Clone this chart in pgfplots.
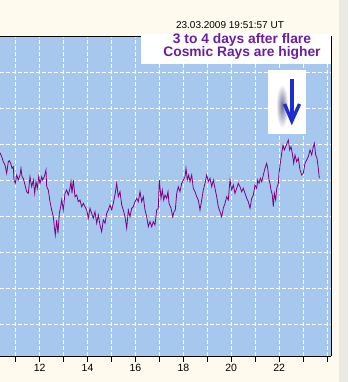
\documentclass[border=0pt]{standalone}
\usepackage{pgfplots}
\pgfplotsset{compat=1.18}
\usepackage{fontspec}
\setmainfont{Liberation Sans}
\definecolor{pagebg}{RGB}{255,250,238}
\definecolor{stripbg}{RGB}{236,232,226}
\definecolor{plotbg}{RGB}{166,200,238}
\definecolor{curve}{RGB}{128,0,128}
\definecolor{notecol}{RGB}{108,30,160}
\definecolor{arrowblue}{RGB}{30,45,210}
\definecolor{shadowcol}{RGB}{110,110,150}
\begin{document}
\begin{tikzpicture}[x=1pt,y=1pt]
\fill[pagebg] (0,0) rectangle (348,382);
\fill[stripbg] (339,0) rectangle (348,382);
\useasboundingbox (0,0) rectangle (348,382);
\begin{axis}[
  at={(0,26)}, anchor=south west,
  width=331pt, height=320pt, scale only axis,
  xmin=10.3445, xmax=24.165, ymin=0, ymax=320,
  axis background/.style={fill=plotbg},
  axis x line*=bottom, axis y line*=right,
  axis line style={black, line width=0.8pt},
  xtick={11,...,24},
  xticklabels={,12,,14,,16,,18,,20,,22,,},
  ytick={32,68,104,140,176,212,248,284},
  yticklabels={},
  y tick style={draw=none},
  x tick style={black, line width=0.8pt},
  tick align=outside, major tick length=6pt,
  xticklabel style={font=\fontsize{10.5}{11}\selectfont, yshift=1pt},
  /pgf/number format/assume math mode=true,
  grid=major,
  major grid style={white, dash pattern=on 4pt off 2pt, line width=0.6pt},
  clip=false,
]
\addplot[curve, line width=0.8pt] coordinates {
(10.345,203.3)(10.415,199.3)(10.482,194.3)(10.553,191)(10.624,182.7)(10.691,194.3)(10.733,195.3)(10.791,192.7)(10.846,187.7)(10.900,189.3)
(10.929,176)(10.983,172.7)(11.042,181)(11.109,176)(11.180,181)(11.221,187.7)(11.263,179.3)(11.317,177.7)(11.388,171)(11.459,164.3)
(11.526,162.7)(11.597,179.3)(11.668,169.3)(11.735,176)(11.793,162.7)(11.848,174.3)(11.902,167.7)(11.960,179.3)(12.015,172.7)(12.086,179.3)
(12.127,176)(12.194,179.3)(12.265,186)(12.294,169.3)(12.361,166)(12.432,154.3)(12.503,146)(12.570,139.3)(12.612,129.3)(12.653,121)
(12.712,136)(12.766,122.7)(12.821,142.7)(12.879,149.3)(12.921,156)(12.988,146)(13.059,162.7)(13.129,166)(13.196,161)(13.267,167.7)
(13.309,174.3)(13.351,162.7)(13.405,176)(13.476,159.3)(13.547,161)(13.614,154.3)(13.685,156)(13.756,149.3)(13.823,152.7)(13.894,149.3)
(13.965,146)(14.031,137.7)(14.102,147.7)(14.173,142.7)(14.240,137.7)(14.311,144.3)(14.382,132.7)(14.449,141)(14.520,131)(14.591,124.3)
(14.658,136)(14.729,132.7)(14.800,142.7)(14.866,146)(14.937,151)(15.008,146)(15.075,152.7)(15.146,161)(15.217,172.7)(15.284,159.3)
(15.355,164.3)(15.426,151)(15.493,146)(15.564,139.3)(15.635,127.7)(15.702,146)(15.772,139.3)(15.843,147.7)(15.910,149.3)(15.981,154.3)
(16.052,157.7)(16.119,154.3)(16.190,164.3)(16.261,154.3)(16.328,159.3)(16.399,146)(16.470,139.3)(16.537,129.3)(16.608,134.3)(16.679,129.3)
(16.745,134.3)(16.816,131)(16.887,146)(16.954,147.7)(16.996,176)(17.067,157.7)(17.121,166)(17.180,156)(17.234,161)(17.305,157.7)
(17.359,164.3)(17.401,152.7)(17.484,148)(17.555,139.3)(17.610,144.3)(17.664,146)(17.723,162.7)(17.789,169.3)(17.860,164.3)(17.931,172.7)
(17.998,176)(18.069,179.3)(18.111,187.7)(18.165,176)(18.223,181)(18.278,174.3)(18.349,181)(18.415,167.7)(18.486,164.3)(18.557,159.3)
(18.624,156)(18.695,146)(18.766,156)(18.833,166)(18.904,172.7)(18.975,181)(19.042,174.3)(19.113,177.7)(19.184,169.3)(19.250,176)
(19.321,167.7)(19.392,159.3)(19.459,149.3)(19.530,144.3)(19.601,139.3)(19.668,147.7)(19.739,152.7)(19.810,159.3)(19.877,156)(19.948,176)
(20.019,166)(20.086,171)(20.157,162.7)(20.228,167.7)(20.294,172.7)(20.366,169.3)(20.436,164.3)(20.503,167.7)(20.574,162.7)(20.645,157.7)
(20.712,154.3)(20.783,147.7)(20.854,157.7)(20.921,161)(20.992,171)(21.063,167.7)(21.105,176)(21.159,172.7)(21.213,177.7)(21.272,174.3)
(21.339,181)(21.409,187.7)(21.480,192.7)(21.522,187.7)(21.577,176)(21.618,172.7)(21.660,166)(21.714,161)(21.756,149.3)(21.798,162.7)
(21.856,156)(21.898,167.7)(21.965,172.7)(21.994,182.7)(22.048,192.7)(22.107,202.7)(22.161,211)(22.215,206)(22.274,209.3)(22.328,212.7)
(22.382,216)(22.441,206)(22.495,209.3)(22.549,202.7)(22.607,192.7)(22.662,201)(22.733,194.3)(22.800,197.7)(22.871,186)(22.941,181)
(23.008,182.7)(23.079,192.7)(23.150,196)(23.217,199.3)(23.288,206)(23.359,201)(23.426,209.3)(23.468,212.7)(23.526,201)(23.581,197.7)
(23.635,187.7)(23.677,177.7)
};
\draw[black, line width=0.8pt] (rel axis cs:0,1) -- (rel axis cs:1,1);
\end{axis}
% annotation box
\fill[white] (141,318) rectangle (331,347.5);
\node[font=\fontsize{10}{10}\selectfont, inner sep=0pt] at (230,357) {23.03.2009 19:51:57 UT};
\node[font=\bfseries\fontsize{13.8}{14}\selectfont, text=notecol, inner sep=0pt] at (242,342) {3 to 4 days after flare};
\node[font=\bfseries\fontsize{13.8}{14}\selectfont, text=notecol, inner sep=0pt] at (242,329) {Cosmic Rays are higher};
% arrow box
\fill[white] (268,248) rectangle (306,312);
\shade[inner color=shadowcol, outer color=white] (282,276) ellipse (6 and 22);
\draw[arrowblue, line width=3.4pt] (291.8,303) -- (291.8,264);
\draw[arrowblue, line width=3.4pt, miter limit=10] (284.5,278) -- (291.8,261) -- (299.5,278);
\end{tikzpicture}
\end{document}
